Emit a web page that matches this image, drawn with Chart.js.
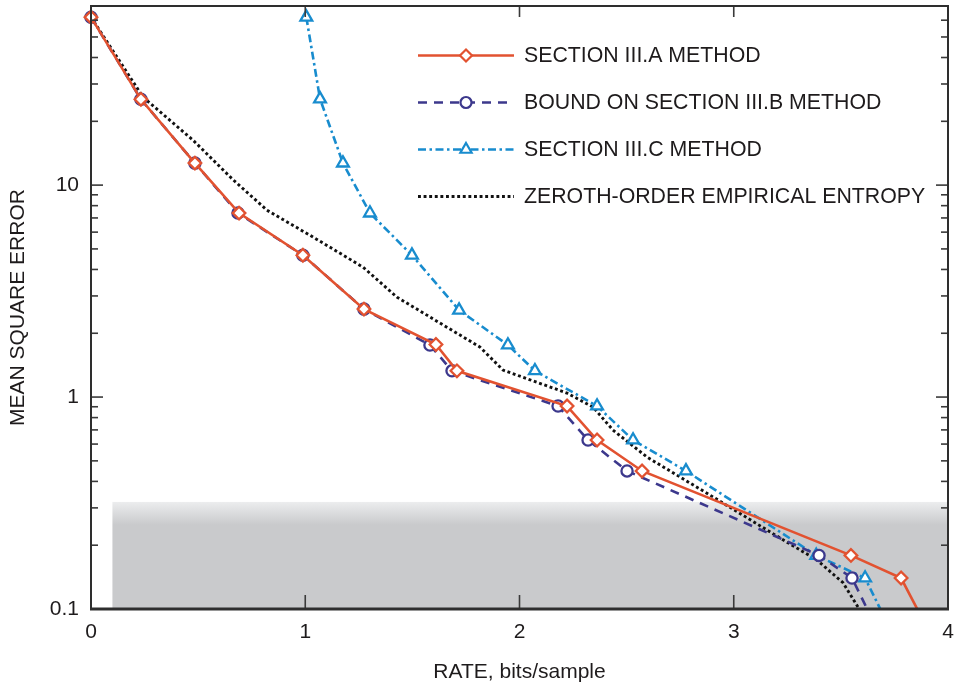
<!DOCTYPE html>
<html><head><meta charset="utf-8">
<script src="https://cdn.jsdelivr.net/npm/chart.js@4/dist/chart.umd.min.js"></script>
<style>html,body{margin:0;padding:0;background:#fff;}#wrap{width:958px;height:689px;}</style>
</head><body><div id="wrap"><canvas id="c" width="958" height="689"></canvas></div>
<script>
// ---- data ----
const SERIES_NAMES = ['SECTION III.A METHOD', 'BOUND ON SECTION III.B METHOD', 'SECTION III.C METHOD', 'ZEROTH-ORDER EMPIRICAL ENTROPY'];
const A_RATE = [0, 0.233, 0.485, 0.691, 0.989, 1.274, 1.610, 1.708, 2.222, 2.362, 2.572, 3.547, 3.781, 3.88];
const A_MSE  = [62, 25.4, 12.7, 7.38, 4.67, 2.60, 1.77, 1.33, 0.907, 0.627, 0.448, 0.179, 0.140, 0.09];
const B_RATE = [0, 0.233, 0.485, 0.686, 0.989, 1.274, 1.582, 1.685, 2.180, 2.320, 2.502, 3.398, 3.552, 3.645];
const B_MSE  = [62, 25.4, 12.7, 7.38, 4.67, 2.60, 1.76, 1.33, 0.907, 0.627, 0.448, 0.179, 0.140, 0.09];
const C_RATE = [1.005, 1.069, 1.176, 1.302, 1.498, 1.718, 1.946, 2.072, 2.362, 2.530, 2.777, 3.385, 3.613, 3.706];
const C_MSE  = [62, 25.5, 12.7, 7.38, 4.67, 2.57, 1.76, 1.33, 0.907, 0.627, 0.448, 0.179, 0.140, 0.09];
const E_RATE = [0, 0.243, 0.476, 0.663, 0.821, 1.036, 1.270, 1.428, 1.816, 1.923, 2.222, 2.343, 2.436, 2.595, 2.903, 3.230, 3.389, 3.510, 3.580, 3.598];
const E_MSE  = [62, 26, 16.3, 10.6, 7.62, 5.69, 4.1, 2.96, 1.72, 1.34, 1.044, 0.897, 0.699, 0.521, 0.338, 0.212, 0.170, 0.133, 0.102, 0.09];
const X_TICKS = [0, 1, 2, 3, 4];
const Y_TICKS = [0.1, 1, 10];
const X_MIN = 0, X_MAX = 4, Y_MIN = 0.1, Y_MAX = 70;
const SHADE_X_FROM = 0.1, SHADE_Y_TOP = 0.32, SHADE_Y_SOLID = 0.25;

// ---- styles ----
const FONT = '"Liberation Sans", Arial, Helvetica, sans-serif';
const TXT = '#1e1b1c';
const RED = 'rgb(226,82,48)', NAVY = 'rgb(60,56,140)', CYAN = 'rgb(24,140,206)', BLACK = '#111111';

const pts = (xs, ys) => xs.map((x, i) => ({x: x, y: ys[i]}));
const markR = r => ctx => (ctx.raw && ctx.raw.y < Y_MIN ? 0 : r);

const datasets = [
  {label: SERIES_NAMES[0], data: pts(A_RATE, A_MSE), borderColor: RED, borderWidth: 2.6, pointStyle: 'rectRot', pointRadius: markR(6.3), pointBorderWidth: 2.3, pointBackgroundColor: '#fff', pointBorderColor: RED},
  {label: SERIES_NAMES[1], data: pts(B_RATE, B_MSE), borderColor: NAVY, borderWidth: 2.6, borderDash: [9, 7], pointStyle: 'circle', pointRadius: markR(5.6), pointBorderWidth: 2.3, pointBackgroundColor: '#fff', pointBorderColor: NAVY},
  {label: SERIES_NAMES[2], data: pts(C_RATE, C_MSE), borderColor: CYAN, borderWidth: 2.6, borderDash: [8, 3.5, 2.5, 3.5], pointStyle: 'triangle', pointRadius: markR(6.8), pointBorderWidth: 2.3, pointBackgroundColor: '#fff', pointBorderColor: CYAN},
  {label: SERIES_NAMES[3], data: pts(E_RATE, E_MSE), borderColor: BLACK, borderWidth: 2.9, borderDash: [2.9, 2.7], pointRadius: 0}
];
datasets.forEach(d => { d.fill = false; d.tension = 0; d.clip = {left: 12, top: 12, right: 12, bottom: 1}; d.pointHoverRadius = 0; });

function drawMarker(ctx, style, x, y, r) {
  ctx.beginPath();
  if (style === 'circle') ctx.arc(x, y, r, 0, Math.PI * 2);
  else if (style === 'rectRot') { ctx.moveTo(x, y - r); ctx.lineTo(x + r, y); ctx.lineTo(x, y + r); ctx.lineTo(x - r, y); ctx.closePath(); }
  else if (style === 'triangle') {
    for (let k = 0; k < 3; k++) { const a = k * 2 * Math.PI / 3; const px = x + Math.sin(a) * r, py = y - Math.cos(a) * r; k ? ctx.lineTo(px, py) : ctx.moveTo(px, py); }
    ctx.closePath();
  }
  ctx.fill(); ctx.stroke();
}

const framePlugin = {
  id: 'frame',
  beforeDatasetsDraw(chart) {
    const ctx = chart.ctx, a = chart.chartArea, xs = chart.scales.x, ys = chart.scales.y;
    const x0 = xs.getPixelForValue(SHADE_X_FROM), yTop = ys.getPixelForValue(SHADE_Y_TOP), ySolid = ys.getPixelForValue(SHADE_Y_SOLID);
    const g = ctx.createLinearGradient(0, yTop, 0, ySolid);
    g.addColorStop(0, 'rgb(236,237,238)');
    g.addColorStop(1, 'rgb(201,202,204)');
    ctx.save();
    ctx.fillStyle = g;
    ctx.fillRect(x0, yTop, a.right - x0, a.bottom - yTop);
    ctx.restore();
  },
  afterDatasetsDraw(chart) {
    const ctx = chart.ctx, a = chart.chartArea, xs = chart.scales.x, ys = chart.scales.y;
    ctx.save();
    ctx.strokeStyle = '#3a3a3a';
    ctx.lineWidth = 1.6;
    const line = (x1, y1, x2, y2) => { ctx.beginPath(); ctx.moveTo(x1, y1); ctx.lineTo(x2, y2); ctx.stroke(); };
    X_TICKS.forEach(v => {
      if (v <= X_MIN || v >= X_MAX) return;
      const px = xs.getPixelForValue(v);
      line(px, a.bottom, px, a.bottom - 14);
      line(px, a.top, px, a.top + 11);
    });
    for (let d = -1; d <= 1; d++) {
      for (let m = 1; m <= 9; m++) {
        const v = m * Math.pow(10, d);
        if (v < Y_MIN * 0.999 || v > Y_MAX) continue;
        const py = ys.getPixelForValue(v);
        const len = m === 1 ? 12 : 7;
        line(a.left, py, a.left + len, py);
        line(a.right, py, a.right - len, py);
      }
    }
    ctx.strokeStyle = '#2e2e2e';
    ctx.lineWidth = 2;
    ctx.strokeRect(a.left, a.top, a.right - a.left, a.bottom - a.top);
    ctx.lineWidth = 3;
    line(a.left - 1, a.bottom, a.right + 1, a.bottom);
    ctx.restore();

    // legend
    const lx0 = a.left + 327, lx1 = a.left + 423, mx = a.left + 375, tx = a.left + 433, y0 = a.top + 49.5, dy = 47;
    chart.data.datasets.forEach((ds, i) => {
      const y = y0 + i * dy;
      ctx.save();
      ctx.strokeStyle = ds.borderColor; ctx.lineWidth = ds.borderWidth;
      ctx.setLineDash(ds.borderDash || []);
      ctx.beginPath(); ctx.moveTo(lx0, y); ctx.lineTo(lx1, y); ctx.stroke();
      ctx.setLineDash([]);
      if (ds.pointStyle && i < 3) {
        ctx.fillStyle = '#fff'; ctx.strokeStyle = ds.pointBorderColor; ctx.lineWidth = 2.2;
        const r = ds.pointStyle === 'triangle' ? 6.5 : (ds.pointStyle === 'circle' ? 5.5 : 6);
        drawMarker(ctx, ds.pointStyle, mx, y, r);
      }
      ctx.fillStyle = TXT; ctx.font = '21.3px ' + FONT; ctx.textBaseline = 'middle'; ctx.textAlign = 'left';
      ctx.fillText(ds.label, tx, y + 1);
      ctx.restore();
    });
  }
};

new Chart(document.getElementById('c'), {
  type: 'line',
  data: {datasets: datasets},
  options: {
    responsive: false, animation: false, devicePixelRatio: 1,
    layout: {autoPadding: false, padding: {top: 6, right: 10, left: 0, bottom: 0}},
    plugins: {legend: {display: false}, tooltip: {enabled: false}},
    events: [],
    scales: {
      x: {
        type: 'linear', min: X_MIN, max: X_MAX,
        afterBuildTicks: s => { s.ticks = X_TICKS.map(v => ({value: v})); },
        afterFit: s => { s.height = 80; s.paddingLeft = 0; s.paddingRight = 0; },
        grid: {display: false, drawTicks: false},
        border: {display: false},
        ticks: {padding: 11, color: TXT, font: {family: FONT, size: 21}, maxRotation: 0, autoSkip: false, callback: v => String(v)},
        title: {display: true, text: 'RATE, bits/sample', color: TXT, font: {family: FONT, size: 21}, padding: {top: 0, bottom: 4}}
      },
      y: {
        type: 'logarithmic', min: Y_MIN, max: Y_MAX,
        afterBuildTicks: s => { s.ticks = Y_TICKS.map(v => ({value: v})); },
        afterFit: s => { s.width = 91; s.paddingTop = 0; s.paddingBottom = 0; },
        grid: {display: false, drawTicks: false},
        border: {display: false},
        ticks: {padding: 12, color: TXT, font: {family: FONT, size: 21}, autoSkip: false, callback: v => String(v)},
        title: {display: true, text: 'MEAN SQUARE ERROR', color: TXT, font: {family: FONT, size: 21}, padding: {top: 6, bottom: 0}}
      }
    }
  },
  plugins: [framePlugin]
});
</script></body></html>
